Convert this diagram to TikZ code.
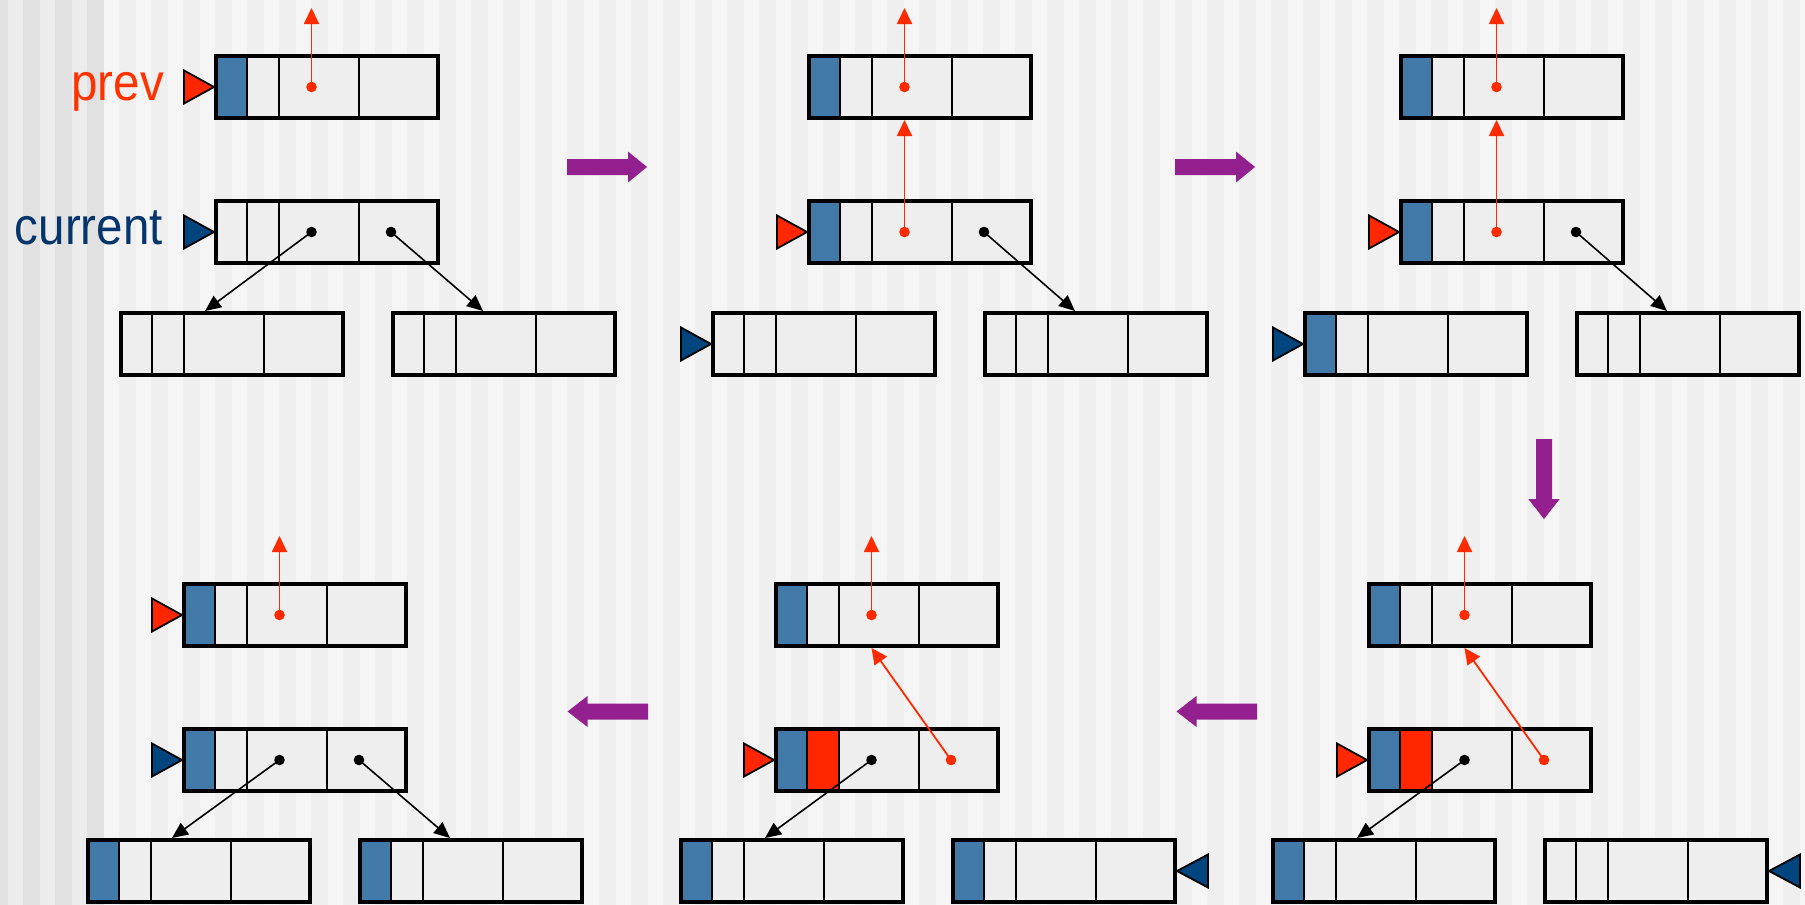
\documentclass[tikz,border=0pt]{standalone}
\usepackage{fontspec}
\setmainfont{Liberation Sans}
\usetikzlibrary{arrows.meta}
\definecolor{bgA}{HTML}{EFEFEF}
\definecolor{bgB}{HTML}{F5F5F5}
\definecolor{bgC}{HTML}{E1E1E1}
\definecolor{bgD}{HTML}{ECECEC}
\definecolor{cellg}{HTML}{EEEEEE}
\definecolor{cellb}{HTML}{4179A9}
\definecolor{cellr}{HTML}{FF2600}
\definecolor{ptrr}{HTML}{FF2600}
\definecolor{ptrb}{HTML}{00457D}
\definecolor{arrr}{HTML}{FF2A00}
\definecolor{purp}{HTML}{93208E}
\definecolor{txtr}{HTML}{FF3300}
\definecolor{txtb}{HTML}{06356B}
\tikzset{
 recbox/.style={minimum width=222pt, minimum height=62pt, inner sep=0pt, outer sep=0pt, fill=cellg, anchor=north west},
 border/.style={draw=black, line width=4pt},
 divider/.style={draw=black, line width=1.7pt},
 redarrow/.style={draw=arrr, line width=1.8pt, -{Triangle[length=16pt,width=15pt]}},
 blackarrow/.style={draw=black, line width=1.6pt, -{Triangle[length=16pt,width=14pt]}},
 ptr/.style={draw=black, line width=1.8pt, line join=miter},
 bigarrow/.style={fill=purp},
 lbl/.style={anchor=base east, inner sep=0pt, font=\fontsize{47.5}{50}\selectfont},
}
\newcommand{\cellbox}[5]{%
 \node[recbox] (#1) at (#2+2,#3+2) {};
 \fill[#4] (#1.north west) rectangle ([xshift=31pt]#1.south west);
 \fill[#5] ([xshift=31pt]#1.north west) rectangle ([xshift=63pt]#1.south west);
 \foreach \dv in {31,63,143}{\draw[divider] ([xshift=\dv pt]#1.north west) -- ([xshift=\dv pt]#1.south west);}
 \draw[border] (#1.north west) rectangle (#1.south east);
 \coordinate (#1-a) at ([xshift=95.5pt]#1.west);
 \coordinate (#1-b) at ([xshift=175pt]#1.west);
 \coordinate (#1-tl) at ([xshift=84pt,yshift=2pt]#1.north west);
 \coordinate (#1-tr) at ([xshift=90pt,yshift=2pt]#1.north west);
 \coordinate (#1-bot) at ([xshift=95.5pt,yshift=-2pt]#1.south west);
 \coordinate (#1-up) at ([yshift=79pt]#1-a);
 \coordinate (#1-pl) at ([xshift=-2pt]#1.west);
 \coordinate (#1-pr) at ([xshift=2pt]#1.east);
}
\newcommand{\ptrL}[2]{\draw[ptr, fill=#2] (#1) -- ++(-30,-16.5) -- ++(0,33) -- cycle;}
\newcommand{\ptrR}[2]{\draw[ptr, fill=#2] (#1) -- ++(31,-16.5) -- ++(0,33) -- cycle;}
\newcommand{\rdot}[1]{\fill[arrr] (#1) circle[radius=5.3pt];}
\newcommand{\bdot}[1]{\fill[black] (#1) circle[radius=5.3pt];}
\newcommand{\bigR}[2]{\fill[bigarrow] (#1,#2) -- ++(61,0) -- ++(0,-7.5) -- ++(19,15.5) -- ++(-19,15.5) -- ++(0,-7.5) -- ++(-61,0) -- cycle;}
\newcommand{\bigL}[2]{\fill[bigarrow] (#1,#2) -- ++(20,-15.5) -- ++(0,7.5) -- ++(60.5,0) -- ++(0,16) -- ++(-60.5,0) -- ++(0,7.5) -- cycle;}
\begin{document}
\begin{tikzpicture}[x=1pt,y=-1pt]
\useasboundingbox (0,0) rectangle (1805,905);
\clip (0,0) rectangle (1805,905);
% background stripes
\fill[bgA] (0,0) rectangle (1805,905);
\fill[bgC] (0,0) rectangle (104,905);
\foreach \k in {0,1,2} {\fill[bgD] (8+32*\k,0) rectangle (23+32*\k,905);}
\foreach \k in {3,...,56} {\fill[bgB] (8+32*\k,0) rectangle (23+32*\k,905);}
% labels
\node[lbl, text=txtr] (lprev) at (164,100) {\scalebox{1}[1.1]{prev}};
\node[lbl, text=txtb] (lcur) at (163,244) {\scalebox{1}[1.1]{current}};
% boxes
\cellbox{Ap}{214}{54}{cellb}{cellg}
\cellbox{Ac}{214}{199}{cellg}{cellg}
\cellbox{Al}{119}{311}{cellg}{cellg}
\cellbox{Ar}{391}{311}{cellg}{cellg}
\cellbox{Bp}{807}{54}{cellb}{cellg}
\cellbox{Bc}{807}{199}{cellb}{cellg}
\cellbox{Bl}{711}{311}{cellg}{cellg}
\cellbox{Br}{983}{311}{cellg}{cellg}
\cellbox{Cp}{1399}{54}{cellb}{cellg}
\cellbox{Cc}{1399}{199}{cellb}{cellg}
\cellbox{Cl}{1303}{311}{cellb}{cellg}
\cellbox{Cr}{1575}{311}{cellg}{cellg}
\cellbox{Dp}{182}{582}{cellb}{cellg}
\cellbox{Dc}{182}{727}{cellb}{cellg}
\cellbox{Dl}{86}{838}{cellb}{cellg}
\cellbox{Dr}{358}{838}{cellb}{cellg}
\cellbox{Ep}{774}{582}{cellb}{cellg}
\cellbox{Ec}{774}{727}{cellb}{cellr}
\cellbox{El}{679}{838}{cellb}{cellg}
\cellbox{Er}{951}{838}{cellb}{cellg}
\cellbox{Fp}{1367}{582}{cellb}{cellg}
\cellbox{Fc}{1367}{727}{cellb}{cellr}
\cellbox{Fl}{1271}{838}{cellb}{cellg}
\cellbox{Fr}{1543}{838}{cellg}{cellg}
% pointer arrows
\draw[redarrow] (Ap-a) -- (Ap-up); \rdot{Ap-a}
\draw[blackarrow] (Ac-a) -- (Al-tl); \bdot{Ac-a}
\draw[blackarrow] (Ac-b) -- (Ar-tr); \bdot{Ac-b}
\draw[redarrow] (Bp-a) -- (Bp-up); \rdot{Bp-a}
\draw[redarrow] (Bc-a) -- (Bp-bot); \rdot{Bc-a}
\draw[blackarrow] (Bc-b) -- (Br-tr); \bdot{Bc-b}
\draw[redarrow] (Cp-a) -- (Cp-up); \rdot{Cp-a}
\draw[redarrow] (Cc-a) -- (Cp-bot); \rdot{Cc-a}
\draw[blackarrow] (Cc-b) -- (Cr-tr); \bdot{Cc-b}
\draw[redarrow] (Dp-a) -- (Dp-up); \rdot{Dp-a}
\draw[blackarrow] (Dc-a) -- (Dl-tl); \bdot{Dc-a}
\draw[blackarrow] (Dc-b) -- (Dr-tr); \bdot{Dc-b}
\draw[redarrow] (Ep-a) -- (Ep-up); \rdot{Ep-a}
\draw[blackarrow] (Ec-a) -- (El-tl); \bdot{Ec-a}
\draw[redarrow] (Ec-b) -- (Ep-bot); \rdot{Ec-b}
\draw[redarrow] (Fp-a) -- (Fp-up); \rdot{Fp-a}
\draw[blackarrow] (Fc-a) -- (Fl-tl); \bdot{Fc-a}
\draw[redarrow] (Fc-b) -- (Fp-bot); \rdot{Fc-b}
% variable markers
\ptrL{Ap-pl}{ptrr} \ptrL{Ac-pl}{ptrb}
\ptrL{Bc-pl}{ptrr} \ptrL{Bl-pl}{ptrb}
\ptrL{Cc-pl}{ptrr} \ptrL{Cl-pl}{ptrb}
\ptrL{Dp-pl}{ptrr} \ptrL{Dc-pl}{ptrb}
\ptrL{Ec-pl}{ptrr} \ptrR{Er-pr}{ptrb}
\ptrL{Fc-pl}{ptrr} \ptrR{Fr-pr}{ptrb}
% step arrows
\bigR{567}{159}
\bigR{1175}{159}
\fill[bigarrow] (1536,439) -- ++(16,0) -- ++(0,60) -- ++(7.7,0) -- ++(-15.7,20) -- ++(-15.7,-20) -- ++(7.7,0) -- cycle;
\bigL{1176.5}{711.5}
\bigL{567.5}{711.5}
\end{tikzpicture}
\end{document}
